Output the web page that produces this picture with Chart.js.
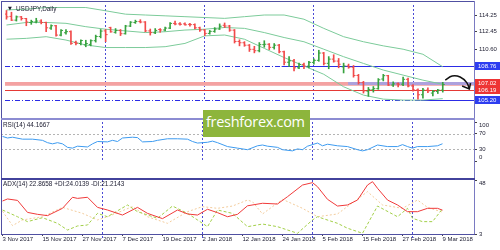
<!DOCTYPE html>
<html>
<head>
<meta charset="utf-8">
<script src="https://cdn.jsdelivr.net/npm/chart.js@4.4.0/dist/chart.umd.min.js"></script>
<style>
  html, body { margin: 0; padding: 0; background: #fff; }
  #wrap { position: relative; width: 500px; height: 250px; overflow: hidden; background: #fff; }
  canvas { position: absolute; left: 0; }
  .ln { position: absolute; z-index: 5; }
  #brand {
    position: absolute; left: 203px; top: 110px; width: 107px; height: 27px;
    background: #8db53c; color: #fff; font-family: 'Open Sans', sans-serif; font-size: 14.5px;
    line-height: 23px; padding-left: 3px; box-sizing: border-box; letter-spacing: -0.3px; z-index: 6;
  }
</style>
</head>
<body>
<div id="wrap">
  <canvas id="pricePane" width="500" height="120" style="top:0"></canvas>
  <canvas id="rsiPane" width="500" height="59" style="top:119px"></canvas>
  <canvas id="adxPane" width="500" height="72" style="top:178px"></canvas>
  <div class="ln" style="left:1px;top:1px;width:474px;height:1px;background:#5050a2"></div>
  <div class="ln" style="left:1px;top:1px;width:1px;height:234px;background:#5050a2"></div>
  <div class="ln" style="left:474px;top:1px;width:1px;height:234px;background:#7a7ac2"></div>
  <div class="ln" style="left:1px;top:118px;width:474px;height:2px;background:#8c8cd2"></div>
  <div class="ln" style="left:1px;top:178px;width:474px;height:2px;background:#42429c"></div>
  <div class="ln" style="left:1px;top:234px;width:474px;height:1px;background:#5050a2"></div>
  <div id="brand">freshforex.com</div>
</div>
<script>
// --- DATA ---
const dateBars = [0, 8, 16, 24, 32, 40, 48, 56, 64, 72, 80, 88];
const dateLabels = ['3 Nov 2017', '15 Nov 2017', '27 Nov 2017', '7 Dec 2017', '19 Dec 2017', '2 Jan 2018',
  '12 Jan 2018', '24 Jan 2018', '5 Feb 2018', '15 Feb 2018', '27 Feb 2018', '9 Mar 2018'];
const monthStarts = [20, 40, 62, 82];

const opens = [114.35,114.10,113.70,114.05,113.87,113.45,113.50,113.60,113.45,112.85,
  113.10,112.10,112.35,112.47,111.30,111.20,111.05,111.10,111.50,111.95,
  112.55,112.90,112.40,112.60,112.25,113.07,113.45,113.55,113.50,112.55,
  112.35,112.70,112.65,112.85,113.35,113.30,113.30,113.25,113.22,112.88,
  112.65,112.28,112.50,112.75,113.15,113.07,112.63,111.42,111.28,111.02,
  110.58,110.43,111.08,111.12,110.79,111.02,110.32,109.20,109.35,108.60,
  108.96,108.78,109.18,109.40,110.18,109.08,109.53,109.32,108.70,108.80,
  108.66,107.78,107.02,106.10,106.25,106.37,107.40,107.76,106.76,106.88,
  106.85,107.37,106.66,106.23,105.72,106.21,105.90,106.07,106.21];
const highs = [114.73,114.55,114.15,114.10,113.90,113.70,113.90,113.75,113.50,113.20,
  113.15,112.70,112.70,112.55,111.45,111.60,111.55,111.60,112.10,112.70,
  112.70,112.95,112.80,112.70,113.15,113.55,113.70,113.75,113.55,112.75,
  112.80,112.80,112.95,113.45,113.60,113.45,113.40,113.35,113.30,112.95,
  112.70,112.60,112.90,113.30,113.40,113.15,112.70,111.60,111.40,111.10,
  110.90,111.30,111.50,111.20,111.20,111.10,110.40,109.80,109.50,109.10,
  109.10,109.30,109.55,110.48,110.25,109.80,110.00,109.60,109.10,109.00,
  108.85,107.90,107.15,106.50,106.60,107.45,107.90,107.80,107.10,107.00,
  107.60,107.50,106.80,106.35,106.40,106.45,106.20,106.30,107.05];
const lows = [113.80,113.65,113.60,113.70,113.10,113.25,113.40,113.30,112.47,112.70,
  111.98,112.00,112.20,111.10,111.05,111.05,110.85,110.95,111.35,111.80,
  111.40,112.40,112.30,112.05,112.20,113.00,113.35,113.40,112.45,112.10,
  112.25,112.40,112.55,112.80,113.20,113.15,113.15,113.05,112.75,112.50,
  112.05,112.20,112.40,112.70,112.90,112.50,111.25,110.95,110.90,110.35,
  110.20,110.30,110.80,110.55,110.60,110.20,108.90,108.75,108.28,108.50,
  108.50,108.60,109.00,109.30,108.90,108.50,109.20,108.60,108.05,108.55,
  107.60,106.85,105.90,105.55,106.00,106.30,107.20,106.70,106.60,106.55,
  106.70,106.55,106.10,105.25,105.35,105.95,105.60,105.85,106.00];
const closes = [114.05,113.70,114.05,113.87,113.50,113.55,113.60,113.45,112.88,113.10,
  112.10,112.60,112.47,111.22,111.22,111.52,111.20,111.50,111.95,112.53,
  112.15,112.45,112.60,112.25,113.07,113.48,113.55,113.50,112.55,112.37,
  112.60,112.65,112.85,113.35,113.29,113.26,113.20,113.22,112.88,112.65,
  112.28,112.50,112.75,113.05,113.07,112.63,111.42,111.28,111.02,110.58,
  110.43,111.08,111.12,110.79,111.02,110.32,109.20,109.35,108.60,108.96,
  108.78,109.18,109.40,110.18,109.08,109.53,109.32,108.98,108.80,108.66,
  107.78,107.02,106.13,106.29,106.37,107.32,107.76,106.76,106.88,106.85,
  107.37,106.66,106.23,105.72,106.21,106.14,106.07,106.21,106.81];

const bandBars = [0,4,8,12,16,20,24,28,32,36,40,44,48,52,56,60,64,68,72,76,80,84,88];
const bandUpper = [114.79,114.88,115.05,115.05,115.05,114.70,114.34,114.25,114.16,114.07,113.98,113.89,
  114.07,114.25,114.25,113.80,112.82,111.93,111.39,110.95,110.59,110.05,108.71];
const bandMiddle = [113.18,113.45,113.45,113.36,113.00,112.73,112.55,112.37,112.46,112.64,112.73,112.91,
  112.82,112.37,111.84,111.39,110.59,109.79,109.07,108.36,107.82,107.28,106.84];
const bandLower = [111.66,111.75,111.93,111.57,111.04,110.77,110.77,110.77,110.86,111.21,112.02,112.11,
  111.66,110.68,109.70,108.80,107.91,106.57,105.68,105.25,105.15,105.15,105.30];

const priceTicks = [114.25, 112.45, 110.60, 108.76];
const levelPrices = [108.76, 106.75, 107.02, 106.19, 105.20];
const levelSolidFrom = [55.5, null, 68.9, null, 83.5];

const arrowBars = [88.5, 89.9, 91.5, 92.84, 93.36];
const arrowPrices = [107.29, 107.73, 107.62, 107.02, 106.35];
const headBars = [91.9, 93.36, 93.6];
const headPrices = [106.66, 106.35, 106.97];

const rsiBars = [0,1,2,4,6,8,9,10,11,12,13,14,15,17,18,19,21,22,23,24,26,27,28,30,31,33,35,37,38,39,
  41,42,43,45,47,49,51,52,53,55,56,58,59,60,61,63,64,65,67,69,71,72,73,75,77,79,80,81,82,83,85,87,88];
const rsiValues = [63,59,61,56,56,53,47,44,47,44,35,33,38,36,44,50,49,53,50,59,61,60,49,50,53,57,57,56,50,46,
  48,51,47,37,33,29,39,41,38,35,29,26,31,29,38,46,39,43,39,37,29,26,29,41,37,37,42,37,33,37,37,39,44.17];
const rsiTicks = [0, 30, 70, 100];
const rsiLevels = [30, 70];

const adxBars = [0,1,3,5,7,9,12,14,15,17,19,21,24,27,29,32,35,37,39,41,43,45,47,49,52,55,57,60,62,63,
  65,67,69,71,73,74,75,77,79,81,83,85,87,88];
const adxMain = [30.5,32.2,31,21,19.4,18.3,24.4,33.6,32.7,33.6,25.2,23,18.8,25.2,20.2,15.8,23,19.7,18.8,23.6,
  20.8,17.4,19.4,26.5,28.6,28,34.1,43.8,45.8,42.4,31.9,26.3,27.2,31.3,43.8,46.6,41.1,31.3,27.2,21.6,
  21.6,24.4,24.4,22.87];
const pdiBars = [0,3,5,8,11,13,15,17,19,21,25,27,31,34,37,39,41,43,46,49,52,55,59,62,63,67,69,72,75,79,81,82,84,86,88];
const pdiValues = [23,17.4,13.3,16.6,11.9,6.3,9.7,10.5,20.2,17.4,27.2,21.6,16.1,26.3,20.2,14.7,9.1,23,20.2,9.1,
  11.3,9.1,3.6,14.7,17.4,11.9,7.8,3.6,26.3,17.4,24.4,16.1,13.3,13.3,24.01];
const mdiBars = [0,2,4,8,12,16,19,21,26,29,33,37,40,43,46,49,50,52,56,60,63,67,73,76,80,83,85,88];
const mdiValues = [22,10,14.7,17.4,25.2,20.2,14.7,17.4,25.8,17.4,11.9,21.6,25.8,24.4,26.3,31.3,29.9,19.7,31.9,24.4,
  17.4,19.7,38.3,27.2,24.4,31.3,25.2,21.21];
const adxTicks = [3, 48];

// --- STYLE ---
const upColor = '#37a33f';
const downColor = '#f14a4a';
const bandColor = '#7ccb9a';
const labelFont = { family: 'Liberation Sans', size: 6, lineHeight: 1.2 };
const textColor = '#1c1c30';

const barColors = closes.map((c, i) => c >= opens[i] ? upColor : downColor);
const points = (xs, ys) => ys.map((v, k) => ({ x: xs[k], y: v }));

// level line looks, same order as levelPrices
const levelLook = [
  { color: '#2c2ce6', width: 1, dash: [5, 2, 1, 2], solid: '#2c2ce6', box: '#2d3df0' },
  { color: '#f3b6b6', width: 2, dash: [], box: '#ee3434' },
  { color: '#f4a2a2', width: 3, dash: [], solid: 'rgba(150,160,240,0.75)', box: '#ee3434' },
  { color: '#e53935', width: 1, dash: [], box: '#ee3434' },
  { color: '#2c2ce6', width: 1, dash: [5, 2, 1, 2], solid: '#2c2ce6', box: '#2d3df0' }
];

function hLine(ctx, x1, x2, y, color, width, dash) {
  ctx.beginPath();
  ctx.setLineDash(dash || []);
  ctx.lineWidth = width;
  ctx.strokeStyle = color;
  ctx.moveTo(x1, y);
  ctx.lineTo(x2, y);
  ctx.stroke();
}

// dotted month separators, shared by every pane
const monthLines = {
  id: 'monthLines',
  beforeDatasetsDraw(chart, args, opts) {
    const { ctx, chartArea: a, scales: { x } } = chart;
    ctx.save();
    ctx.strokeStyle = '#4b4bd6';
    ctx.lineWidth = 1;
    ctx.setLineDash([2, 2]);
    monthStarts.forEach(b => {
      const px = Math.floor(x.getPixelForValue(b)) + 0.5;
      ctx.beginPath();
      ctx.moveTo(px, a.top);
      ctx.lineTo(px, a.bottom + (opts.extra || 0));
      ctx.stroke();
    });
    ctx.restore();
  }
};

// pane caption at top-left
const caption = {
  id: 'caption',
  afterDraw(chart, args, opts) {
    const { ctx, chartArea: a } = chart;
    ctx.save();
    ctx.fillStyle = textColor;
    ctx.textBaseline = 'middle';
    let x = a.left + 2;
    if (opts.marker) {
      ctx.font = '5px "DejaVu Sans"';
      ctx.fillText('\u25BC', x + 1, a.top + opts.dy);
      x += 9;
    }
    ctx.font = '6.4px "Liberation Sans"';
    ctx.fillText(opts.text, x, a.top + opts.dy);
    ctx.restore();
  }
};

// horizontal price levels and their axis boxes
const priceLevels = {
  id: 'priceLevels',
  beforeDatasetsDraw(chart) {
    const { ctx, chartArea: a, scales: { x, y } } = chart;
    ctx.save();
    ctx.beginPath();
    ctx.rect(a.left, a.top, a.width, a.height);
    ctx.clip();
    levelPrices.forEach((p, k) => {
      const look = levelLook[k];
      const py = look.width % 2 ? Math.round(y.getPixelForValue(p)) + 0.5 : Math.round(y.getPixelForValue(p));
      hLine(ctx, a.left, a.right, py, look.color, look.width, look.dash);
      if (levelSolidFrom[k] !== null) {
        hLine(ctx, x.getPixelForValue(levelSolidFrom[k]), a.right, py, look.solid, look.width, []);
      }
    });
    ctx.restore();
  },
  afterDraw(chart) {
    const { ctx, chartArea: a, scales: { y } } = chart;
    ctx.save();
    ctx.font = '6px "Liberation Sans"';
    ctx.textBaseline = 'middle';
    levelPrices.forEach((p, k) => {
      const py = Math.round(y.getPixelForValue(p));
      ctx.fillStyle = levelLook[k].box;
      ctx.fillRect(a.right + 1, py - 4, 26, 8);
      ctx.fillStyle = '#fff';
      ctx.fillText(p.toFixed(2), a.right + 4, py + 0.5);
    });
    ctx.restore();
  }
};

const rsiLevelLines = {
  id: 'rsiLevelLines',
  beforeDatasetsDraw(chart) {
    const { ctx, chartArea: a, scales: { y } } = chart;
    ctx.save();
    rsiLevels.forEach(v => {
      hLine(ctx, a.left, a.right, Math.round(y.getPixelForValue(v)) + 0.5, '#b4b4b4', 1, [2, 2]);
    });
    ctx.restore();
  }
};

function paneOptions(yMin, yMax, yTicks, yLabel, padding, showX) {
  return {
    responsive: false,
    animation: false,
    devicePixelRatio: 1,
    events: [],
    layout: { padding },
    plugins: { legend: { display: false }, tooltip: { enabled: false } },
    scales: {
      x: {
        type: 'linear', min: -0.3, max: 94.3, offset: false, bounds: 'data',
        display: showX,
        grid: { display: true, offset: false, drawOnChartArea: false, drawTicks: true, tickLength: 2, color: '#444' },
        border: { display: false },
        ticks: {
          autoSkip: false, maxRotation: 0, minRotation: 0, align: 'start', padding: 0,
          color: textColor, font: labelFont,
          callback: (v, i) => dateLabels[i]
        },
        afterBuildTicks: s => { s.ticks = dateBars.map(v => ({ value: v })); },
        afterFit: s => { s.height = 16; s.paddingLeft = 0; s.paddingRight = 0; }
      },
      y: {
        position: 'right', min: yMin, max: yMax, bounds: 'data',
        grid: { drawOnChartArea: false, drawTicks: true, tickLength: 3, color: '#444' },
        border: { display: false },
        ticks: { autoSkip: false, padding: 2, color: textColor, font: labelFont, callback: yLabel },
        afterBuildTicks: s => { s.ticks = yTicks.map(v => ({ value: v })); },
        afterFit: s => { s.width = 26; s.paddingTop = 0; s.paddingBottom = 0; }
      }
    }
  };
}

function lineSet(xs, ys, color, width, dash) {
  return {
    type: 'line', data: points(xs, ys), borderColor: color, borderWidth: width,
    borderDash: dash || [], pointRadius: 0, tension: 0, fill: false
  };
}

// --- PRICE PANE ---
const priceOpts = paneOptions(105.05, 115.32, priceTicks, v => v.toFixed(2),
  { left: 1, top: 2, right: 0, bottom: 3 }, false);
priceOpts.plugins.monthLines = { extra: 0 };
priceOpts.plugins.caption = { text: 'USDJPY,Daily', marker: true, dy: 4 };

new Chart(document.getElementById('pricePane'), {
  type: 'bar',
  data: {
    datasets: [
      { ...lineSet(arrowBars, arrowPrices, '#111', 1.5), tension: 0.4 },
      lineSet(headBars, headPrices, '#111', 1.5),
      {
        type: 'line', showLine: false, data: points(closes.map((c, i) => i), closes),
        pointStyle: 'dash', pointRadius: 2, pointBorderWidth: 1, pointRotation: 0,
        pointBorderColor: barColors, pointBackgroundColor: barColors
      },
      {
        type: 'line', showLine: false, data: points(opens.map((o, i) => i), opens),
        pointStyle: 'dash', pointRadius: 2, pointBorderWidth: 1, pointRotation: 180,
        pointBorderColor: barColors, pointBackgroundColor: barColors
      },
      {
        type: 'bar', data: highs.map((h, i) => ({ x: i, y: [lows[i], h] })),
        backgroundColor: barColors, barThickness: 1, borderWidth: 0
      },
      lineSet(bandBars, bandUpper, bandColor, 1),
      lineSet(bandBars, bandMiddle, bandColor, 1),
      lineSet(bandBars, bandLower, bandColor, 1)
    ]
  },
  options: priceOpts,
  plugins: [monthLines, priceLevels, caption]
});

// --- RSI PANE ---
const rsiOpts = paneOptions(0, 100, rsiTicks,
  v => v === 100 ? ['', '100'] : v === 0 ? ['0', ''] : String(v),
  { left: 1, top: 3, right: 0, bottom: 1 }, false);
rsiOpts.plugins.monthLines = { extra: 0 };
rsiOpts.plugins.caption = { text: 'RSI(14) 44.1667', marker: false, dy: 3 };

new Chart(document.getElementById('rsiPane'), {
  type: 'line',
  data: { datasets: [lineSet(rsiBars, rsiValues, '#3d9bf0', 1)] },
  options: rsiOpts,
  plugins: [monthLines, rsiLevelLines, caption]
});

// --- ADX PANE ---
const adxOpts = paneOptions(3, 48, adxTicks,
  v => v === 48 ? ['', '48'] : String(v),
  { left: 1, top: 2, right: 0, bottom: 0 }, true);
adxOpts.plugins.monthLines = { extra: 6 };
adxOpts.plugins.caption = { text: 'ADX(14) 22.8658 +DI:24.0139 -DI:21.2143', marker: false, dy: 4 };

new Chart(document.getElementById('adxPane'), {
  type: 'line',
  data: {
    datasets: [
      lineSet(adxBars, adxMain, '#f03a3a', 1),
      lineSet(pdiBars, pdiValues, '#a2cf48', 1, [3, 2]),
      lineSet(mdiBars, mdiValues, '#f3cc9c', 1, [2, 2])
    ]
  },
  options: adxOpts,
  plugins: [monthLines, caption]
});
</script>
</body>
</html>
